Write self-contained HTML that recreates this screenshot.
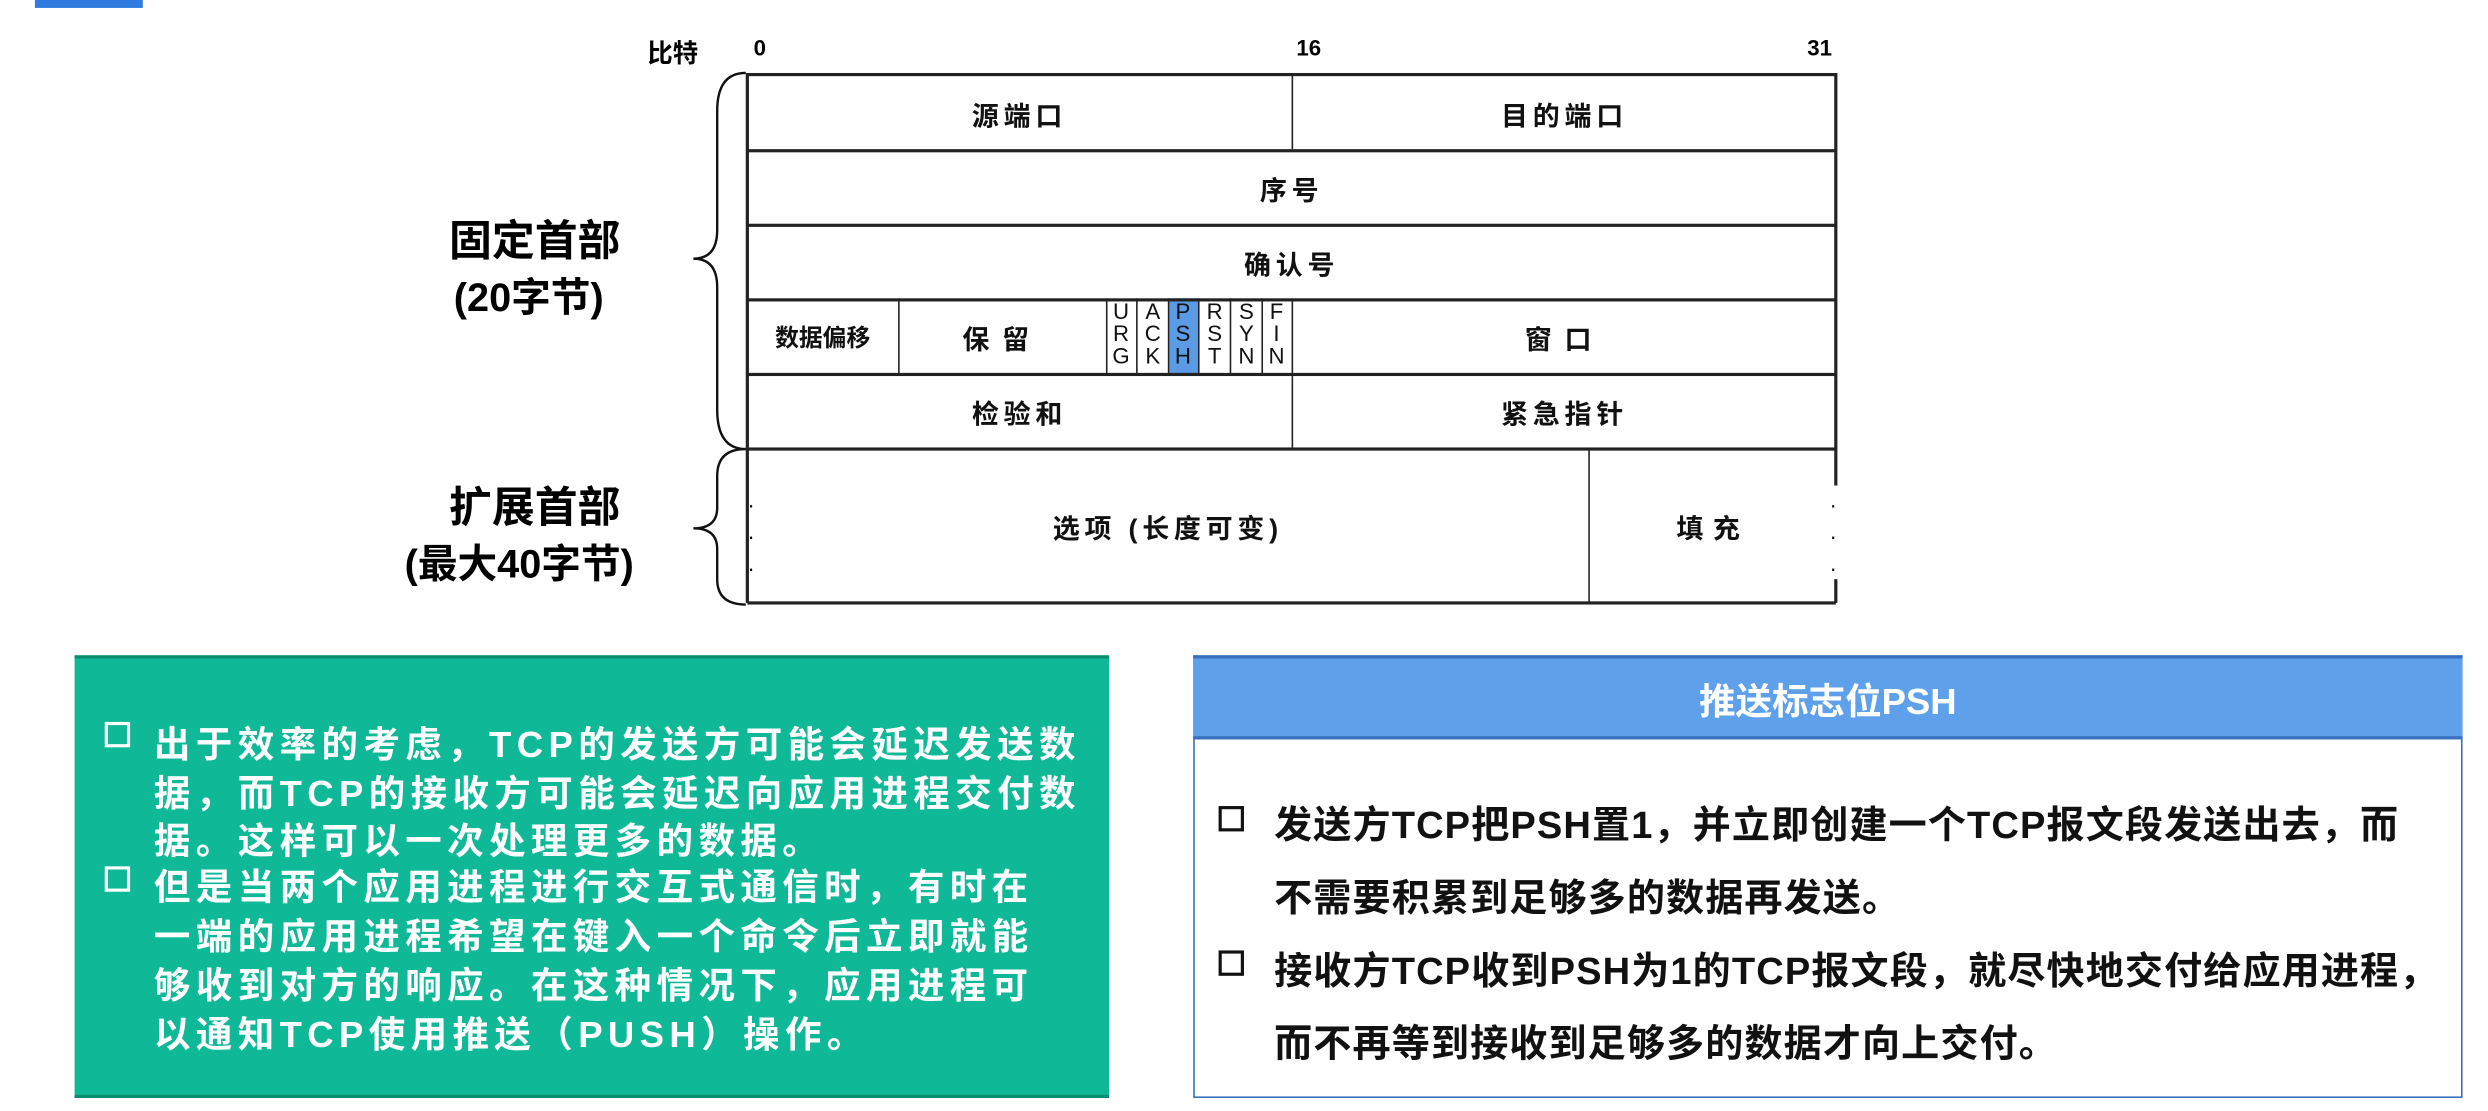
<!DOCTYPE html>
<html><head><meta charset="utf-8"><style>
html,body{margin:0;padding:0;background:#fff;width:2488px;height:1111px;overflow:hidden}
#w{position:absolute;left:0;top:0;width:1568px;height:700px;transform:scale(1.5867);transform-origin:0 0;font-family:"Liberation Sans","Noto Sans CJK SC",sans-serif;font-weight:bold}
.a{position:absolute;white-space:nowrap}
.c{position:absolute;display:flex;align-items:center;justify-content:center;font-size:17px;color:#111;letter-spacing:3px}
.ln{position:absolute;background:#222}
.f{position:absolute;top:189px;width:19px;font-size:14px;line-height:14px;text-align:center;font-weight:normal;color:#111;font-family:"Liberation Sans",sans-serif}
.g{font-size:23px;color:#fff;left:97px;letter-spacing:3.4px}
.b{font-size:24px;color:#111;left:803px;letter-spacing:0.7px}
.sq{position:absolute;width:12px;height:12px;border:2.5px solid}
</style></head><body><div id="w">
<div class="a" style="left:22px;top:0;width:68px;height:5px;background:#2f7be0"></div>
<div class="a" style="left:408px;top:20px;font-size:16px">比特</div>
<div class="a" style="left:475px;top:22px;font-size:14px;font-family:'Liberation Sans'">0</div>
<div class="a" style="left:817px;top:22px;font-size:14px">16</div>
<div class="a" style="left:1139px;top:22px;font-size:14px">31</div>
<div class="a" style="left:737px;top:188px;width:18px;height:48px;background:#5b9be6"></div>
<div class="ln" style="left:471px;top:46px;width:686px;height:2px"></div>
<div class="ln" style="left:471px;top:94px;width:686px;height:2px"></div>
<div class="ln" style="left:471px;top:141px;width:686px;height:2px"></div>
<div class="ln" style="left:471px;top:188px;width:686px;height:2px"></div>
<div class="ln" style="left:471px;top:235px;width:686px;height:2px"></div>
<div class="ln" style="left:471px;top:282px;width:686px;height:2px"></div>
<div class="ln" style="left:471px;top:379px;width:686px;height:2px"></div>
<div class="ln" style="left:470px;top:46px;width:1.5px;height:334px"></div>
<div class="ln" style="left:1156px;top:46px;width:1.5px;height:260px"></div>
<div class="ln" style="left:1156px;top:365px;width:1.5px;height:15px"></div>
<div class="ln" style="left:814px;top:46px;width:1.2px;height:48px"></div>
<div class="ln" style="left:814px;top:188px;width:1.2px;height:95px"></div>
<div class="ln" style="left:566px;top:188px;width:1.2px;height:48px"></div>
<div class="ln" style="left:697px;top:188px;width:1px;height:48px"></div>
<div class="ln" style="left:716px;top:188px;width:1px;height:48px"></div>
<div class="ln" style="left:736px;top:188px;width:1px;height:48px"></div>
<div class="ln" style="left:755px;top:188px;width:1px;height:48px"></div>
<div class="ln" style="left:775px;top:188px;width:1px;height:48px"></div>
<div class="ln" style="left:795px;top:188px;width:1px;height:48px"></div>
<div class="ln" style="left:1001px;top:282px;width:1.2px;height:98px"></div>
<div class="c" style="left:471px;top:48px;width:343px;height:46px">源端口</div>
<div class="c" style="left:815px;top:48px;width:342px;height:46px">目的端口</div>
<div class="c" style="left:471px;top:96px;width:686px;height:45px">序号</div>
<div class="c" style="left:471px;top:143px;width:686px;height:45px">确认号</div>
<div class="c" style="left:471px;top:190px;width:95px;height:45px;letter-spacing:0;font-size:15px">数据偏移</div>
<div class="c" style="left:566px;top:190px;width:131px;height:45px;letter-spacing:8px">保留</div>
<div class="c" style="left:815px;top:190px;width:342px;height:45px;letter-spacing:8px">窗口</div>
<div class="c" style="left:471px;top:237px;width:343px;height:45px">检验和</div>
<div class="c" style="left:815px;top:237px;width:342px;height:45px">紧急指针</div>
<div class="c" style="left:471px;top:284px;width:530px;height:95px">选项 (长度可变)</div>
<div class="c" style="left:1002px;top:284px;width:155px;height:95px;letter-spacing:6px">填充</div>
<div class="f" style="left:697px">U<br>R<br>G</div>
<div class="f" style="left:717px">A<br>C<br>K</div>
<div class="f" style="left:736px">P<br>S<br>H</div>
<div class="f" style="left:756px">R<br>S<br>T</div>
<div class="f" style="left:776px">S<br>Y<br>N</div>
<div class="f" style="left:795px">F<br>I<br>N</div>
<div class="a" style="left:471px;top:308px;font-size:14px;line-height:20px;font-weight:normal">·<br>·<br>·</div>
<div class="a" style="left:1153px;top:308px;font-size:14px;line-height:20px;font-weight:normal">·<br>·<br>·</div>
<svg class="a" style="left:425px;top:40px" width="50" height="350" viewBox="425 40 50 350">
<path d="M470 46 Q452 46 452 70 L452 145 Q452 163 437 163 Q452 163 452 181 L452 258 Q452 283 470 283" fill="none" stroke="#111" stroke-width="1.5"/>
<path d="M470 283 Q452 283 452 300 L452 320 Q452 333 437 333 Q452 333 452 346 L452 365 Q452 381 470 381" fill="none" stroke="#111" stroke-width="1.5"/>
</svg>
<div class="a" style="left:283px;top:130px;font-size:27px">固定首部</div>
<div class="a" style="left:286px;top:168px;font-size:25px">(20字节)</div>
<div class="a" style="left:283px;top:298px;font-size:27px">扩展首部</div>
<div class="a" style="left:255px;top:336px;font-size:25px">(最大40字节)</div>
<div class="a" style="left:47px;top:413px;width:652px;height:279px;background:#0fb998;border-top:2px solid #0a8c70;border-bottom:2px solid #0a8c70;box-sizing:border-box"></div>
<div class="sq" style="left:66px;top:455px;border-color:#fff"></div>
<div class="sq" style="left:66px;top:546px;border-color:#fff"></div>
<div class="a g" style="top:450px">出于效率的考虑，TCP的发送方可能会延迟发送数</div>
<div class="a g" style="top:481px">据，而TCP的接收方可能会延迟向应用进程交付数</div>
<div class="a g" style="top:511px">据。这样可以一次处理更多的数据。</div>
<div class="a g" style="top:540px">但是当两个应用进程进行交互式通信时，有时在</div>
<div class="a g" style="top:571px">一端的应用进程希望在键入一个命令后立即就能</div>
<div class="a g" style="top:602px">够收到对方的响应。在这种情况下，应用进程可</div>
<div class="a g" style="top:633px">以通知TCP使用推送（PUSH）操作。</div>
<div class="a" style="left:752px;top:413px;width:800px;height:279px;border:1.5px solid #3a6fc0;box-sizing:border-box"></div>
<div class="a" style="left:752px;top:413px;width:800px;height:53px;background:#5fa0ea;border-top:2px solid #3a6fc0;border-bottom:2px solid #3a6fc0;box-sizing:border-box;color:#fff;font-size:23px;display:flex;align-items:center;justify-content:center">推送标志位PSH</div>
<div class="sq" style="left:768px;top:508px;border-color:#111"></div>
<div class="sq" style="left:768px;top:599px;border-color:#111"></div>
<div class="a b" style="top:500px">发送方TCP把PSH置1，并立即创建一个TCP报文段发送出去，而</div>
<div class="a b" style="top:546px">不需要积累到足够多的数据再发送。</div>
<div class="a b" style="top:592px">接收方TCP收到PSH为1的TCP报文段，就尽快地交付给应用进程，</div>
<div class="a b" style="top:638px">而不再等到接收到足够多的数据才向上交付。</div>
</div></body></html>
